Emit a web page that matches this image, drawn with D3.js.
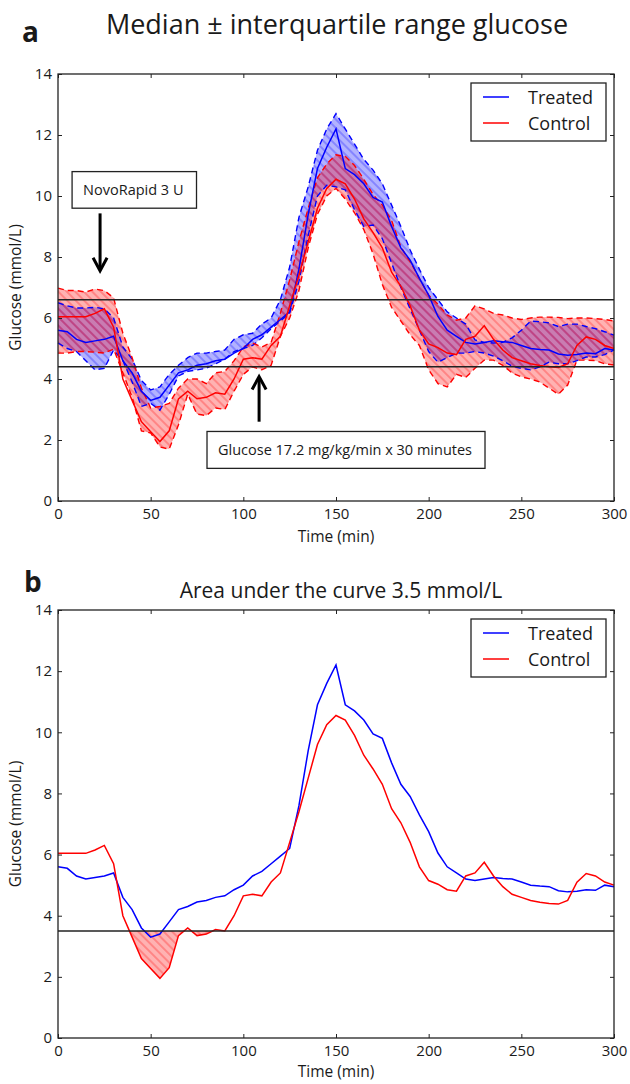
<!DOCTYPE html>
<html>
<head>
<meta charset="utf-8">
<script src="https://cdn.jsdelivr.net/npm/d3@7"></script>
<style>
  body { margin: 0; background: #fff; }
  text { font-family: "Open Sans", sans-serif; fill: #1a1a1a; }
</style>
</head>
<body>
<svg id="chart" width="630" height="1084"></svg>
<script>
// time grid (min)
var minutes = [0,5,10,15,20,25,30,35,40,45,50,55,60,65,70,75,80,85,90,95,100,
  105,110,115,120,125,130,135,140,145,150,155,160,165,170,175,180,185,190,195,200,
  205,210,215,220,225,230,235,240,245,250,255,260,265,270,275,280,285,290,295,300];

// Treated: median, lower and upper quartile (mmol/L)
var treatedMedian = [5.6,5.55,5.3,5.2,5.25,5.3,5.4,4.6,4.2,3.6,3.3,3.4,3.8,4.2,4.3,4.45,4.5,4.6,4.65,4.85,5.0,
  5.3,5.45,5.7,5.95,6.2,7.6,9.4,10.9,11.6,12.2,10.9,10.7,10.4,9.95,9.8,9.0,8.3,7.9,7.3,6.75,
  6.05,5.6,5.4,5.2,5.15,5.2,5.25,5.22,5.2,5.1,5.0,4.97,4.95,4.82,4.78,4.8,4.85,4.83,5.0,4.95];
var treatedQ1 = [5.18,5.0,4.9,4.6,4.3,4.35,4.95,4.6,3.9,3.1,3.2,2.98,3.5,4.1,4.25,4.3,4.35,4.5,4.65,4.9,5.0,
  5.1,5.35,5.65,5.9,6.16,7.2,8.7,10.0,10.35,10.3,10.2,9.55,9.0,9.05,8.6,7.8,7.0,6.3,5.6,4.9,
  4.55,4.7,4.85,4.85,4.9,4.85,4.75,4.6,4.42,4.35,4.3,4.4,4.55,4.5,4.5,4.6,4.72,4.72,4.8,4.95];
var treatedQ3 = [6.5,6.4,6.33,6.33,6.35,6.3,6.0,5.05,4.65,3.95,3.64,3.74,4.15,4.45,4.7,4.85,4.85,4.9,4.95,5.3,5.45,
  5.5,5.8,6.0,6.6,7.67,9.3,10.3,11.5,12.2,12.7,12.2,11.7,11.2,10.85,10.4,9.7,9.0,8.23,7.6,7.0,
  6.6,6.2,6.0,5.8,5.28,5.2,5.18,5.2,5.35,5.6,5.9,5.88,5.84,5.72,5.8,5.8,5.72,5.65,5.55,5.44];

// Control: median, lower and upper quartile (mmol/L)
var controlMedian = [6.04,6.04,6.04,6.04,6.15,6.3,5.7,4.0,3.3,2.6,2.27,1.95,2.3,3.35,3.6,3.35,3.4,3.55,3.5,4.0,4.65,
  4.7,4.65,5.1,5.4,6.4,7.4,8.5,9.6,10.25,10.55,10.4,9.9,9.25,8.8,8.3,7.5,7.04,6.4,5.6,5.15,
  5.03,4.85,4.8,5.3,5.4,5.75,5.3,4.95,4.7,4.6,4.5,4.44,4.4,4.38,4.5,5.1,5.38,5.3,5.1,5.0];
var controlQ1 = [4.85,4.85,4.9,4.9,4.88,4.85,4.98,4.2,3.4,2.3,2.23,1.77,1.7,2.5,3.5,2.85,2.8,3.05,3.0,3.6,4.15,
  4.4,4.3,4.45,5.4,6.0,6.9,8.3,9.4,10.0,10.25,9.9,9.45,8.9,8.1,7.1,6.35,5.9,5.45,5.1,4.3,
  3.85,3.74,4.15,4.05,4.35,4.62,4.62,4.45,4.2,4.07,4.0,3.9,3.7,3.5,3.8,4.62,4.62,4.6,4.5,4.46];
var controlQ3 = [6.98,6.9,6.9,6.85,6.95,6.9,6.66,5.5,4.7,3.7,3.05,3.1,3.2,3.7,4.0,4.0,3.85,4.2,4.25,4.6,5.05,
  5.18,5.05,5.2,6.16,7.25,8.5,9.6,10.6,11.05,11.35,11.3,11.0,10.55,10.05,9.7,9.2,8.33,7.85,7.3,6.75,
  6.45,6.1,5.93,6.0,6.4,6.3,6.15,6.1,6.0,5.95,6.0,6.03,6.03,6.02,5.98,6.0,6.0,5.98,5.95,5.9];

var targetRange = [4.4, 6.6];
var hypoLimit = 3.5;

var xTicks = [0, 50, 100, 150, 200, 250, 300];
var yTicks = [0, 2, 4, 6, 8, 10, 12, 14];
var seriesNames = ["Treated", "Control"];
var seriesColors = ["#0000ff", "#ff0000"];

var annotations = [
  {label: "NovoRapid 3 U", boxT: 7.6, boxTop: 10.8, boxBottom: 9.6, arrowT: 22.7, from: 9.43, to: 7.55},
  {label: "Glucose 17.2 mg/kg/min x 30 minutes", boxT: 80.4, boxTop: 2.28, boxBottom: 1.07, arrowT: 108.5, from: 2.6, to: 4.08}
];

var svg = d3.select("#chart");
var defs = svg.append("defs");

seriesColors.forEach(function(c, i) {
  var p = defs.append("pattern")
    .attr("id", "hatch" + i)
    .attr("patternUnits", "userSpaceOnUse")
    .attr("width", 6).attr("height", 6)
    .attr("patternTransform", "rotate(-45)");
  p.append("line")
    .attr("x1", 3).attr("y1", 0).attr("x2", 3).attr("y2", 6)
    .attr("stroke", c).attr("stroke-width", 1).attr("stroke-opacity", 0.5);
});

function rows(med, lo, hi) {
  return minutes.map(function(t, i) { return {t: t, med: med[i], lo: lo[i], hi: hi[i]}; });
}
var treated = rows(treatedMedian, treatedQ1, treatedQ3);
var control = rows(controlMedian, controlQ1, controlQ3);

function styleAxis(a) {
  a.select(".domain").remove();
  a.selectAll(".tick line").attr("stroke", "#222");
  a.selectAll(".tick text").attr("font-size", 15).attr("fill", "#1a1a1a")
    .attr("font-family", "Open Sans, sans-serif");
}

function drawFrame(g, x, y, labelGap) {
  var x0 = x.range()[0], x1 = x.range()[1], y0 = y.range()[0], y1 = y.range()[1];

  g.append("g").attr("transform", "translate(0," + y0 + ")")
    .call(d3.axisBottom(x).tickValues(xTicks).tickSizeInner(-4).tickSizeOuter(0).tickPadding(7))
    .call(styleAxis);
  g.append("g").attr("transform", "translate(0," + y1 + ")")
    .call(d3.axisTop(x).tickValues(xTicks).tickSizeInner(-4).tickSizeOuter(0).tickFormat(""))
    .call(styleAxis);
  g.append("g").attr("transform", "translate(" + x0 + ",0)")
    .call(d3.axisLeft(y).tickValues(yTicks).tickSizeInner(-4).tickSizeOuter(0).tickPadding(6))
    .call(styleAxis);
  g.append("g").attr("transform", "translate(" + x1 + ",0)")
    .call(d3.axisRight(y).tickValues(yTicks).tickSizeInner(-4).tickSizeOuter(0).tickFormat(""))
    .call(styleAxis);

  g.append("rect")
    .attr("x", x0).attr("y", y1)
    .attr("width", x1 - x0).attr("height", y0 - y1)
    .attr("fill", "none").attr("stroke", "#222").attr("stroke-width", 1.3);

  g.append("text")
    .attr("x", (x0 + x1) / 2).attr("y", y0 + labelGap)
    .attr("text-anchor", "middle").attr("font-size", 15.5)
    .text("Time (min)");
  g.append("text")
    .attr("transform", "translate(21," + ((y0 + y1) / 2) + ") rotate(-90)")
    .attr("text-anchor", "middle").attr("font-size", 15.5)
    .text("Glucose (mmol/L)");
}

function drawLegend(g, x, y) {
  var right = x.range()[1], top = y.range()[1];
  var lg = g.append("g").attr("transform", "translate(" + (right - 143) + "," + (top + 9) + ")");
  lg.append("rect").attr("width", 135).attr("height", 58)
    .attr("fill", "#fff").attr("stroke", "#222").attr("stroke-width", 1.3);
  seriesNames.forEach(function(n, i) {
    var yy = 14 + i * 26;
    lg.append("line").attr("x1", 12).attr("x2", 38).attr("y1", yy).attr("y2", yy)
      .attr("stroke", seriesColors[i]).attr("stroke-width", 1.5);
    lg.append("text").attr("x", 57).attr("y", yy + 6.5).attr("font-size", 18).text(n);
  });
}

function hline(g, x, y, v) {
  g.append("line")
    .attr("x1", x.range()[0]).attr("x2", x.range()[1])
    .attr("y1", y(v)).attr("y2", y(v))
    .attr("stroke", "#222").attr("stroke-width", 1.5);
}

// ---------- panel a ----------
var xa = d3.scaleLinear().domain([0, 300]).range([58, 614]);
var ya = d3.scaleLinear().domain([0, 14]).range([501, 74]);
var ga = svg.append("g");

var bandA = d3.area().x(function(d) { return xa(d.t); })
  .y0(function(d) { return ya(d.lo); }).y1(function(d) { return ya(d.hi); });
var lineA = function(key) {
  return d3.line().x(function(d) { return xa(d.t); }).y(function(d) { return ya(d[key]); });
};

[treated, control].forEach(function(data, i) {
  ga.append("path").datum(data).attr("d", bandA)
    .attr("fill", seriesColors[i]).attr("fill-opacity", 0.3);
  ga.append("path").datum(data).attr("d", bandA).attr("fill", "url(#hatch" + i + ")");
});
[treated, control].forEach(function(data, i) {
  ["lo", "hi"].forEach(function(k) {
    ga.append("path").datum(data).attr("d", lineA(k))
      .attr("fill", "none").attr("stroke", seriesColors[i])
      .attr("stroke-width", 1.4).attr("stroke-dasharray", "6,4");
  });
});
[treated, control].forEach(function(data, i) {
  ga.append("path").datum(data).attr("d", lineA("med"))
    .attr("fill", "none").attr("stroke", seriesColors[i]).attr("stroke-width", 1.5);
});
targetRange.forEach(function(v) { hline(ga, xa, ya, v); });

annotations.forEach(function(a) {
  var t = ga.append("text")
    .attr("x", xa(a.boxT) + 11)
    .attr("y", (ya(a.boxTop) + ya(a.boxBottom)) / 2 + 5)
    .attr("font-size", 14.5).text(a.label);
  var w = t.node().getComputedTextLength();
  ga.insert("rect", "text")
    .attr("x", xa(a.boxT)).attr("y", ya(a.boxTop))
    .attr("width", w + 24).attr("height", ya(a.boxBottom) - ya(a.boxTop))
    .attr("fill", "#fff").attr("stroke", "#222").attr("stroke-width", 1.3);
  var ax = xa(a.arrowT), yFrom = ya(a.from), yTo = ya(a.to);
  var dir = yTo > yFrom ? 1 : -1;
  ga.append("line").attr("x1", ax).attr("x2", ax).attr("y1", yFrom).attr("y2", yTo - dir)
    .attr("stroke", "#000").attr("stroke-width", 3);
  ga.append("path")
    .attr("d", "M" + (ax - 7) + "," + (yTo - dir * 13) + "L" + ax + "," + yTo + "L" + (ax + 7) + "," + (yTo - dir * 13))
    .attr("fill", "none").attr("stroke", "#000").attr("stroke-width", 3)
    .attr("stroke-linejoin", "miter");
});

drawFrame(ga, xa, ya, 41);
drawLegend(ga, xa, ya);

svg.append("text").attr("x", 22).attr("y", 42)
  .attr("font-family", "Liberation Sans, Arial, sans-serif").attr("font-weight", "bold")
  .attr("font-size", 28).text("a");
svg.append("text").attr("x", 337).attr("y", 34).attr("text-anchor", "middle")
  .attr("font-size", 27).text("Median \u00b1 interquartile range glucose");

// ---------- panel b ----------
var xb = d3.scaleLinear().domain([0, 300]).range([58, 614]);
var yb = d3.scaleLinear().domain([0, 14]).range([1038, 610]);
var gb = svg.append("g");

defs.append("clipPath").attr("id", "belowHypo")
  .append("rect")
  .attr("x", xb.range()[0]).attr("y", yb(hypoLimit))
  .attr("width", xb.range()[1] - xb.range()[0]).attr("height", yb.range()[0] - yb(hypoLimit));

var hypoArea = d3.area().x(function(d) { return xb(d.t); })
  .y0(yb(hypoLimit)).y1(function(d) { return yb(d.med); });
gb.append("path").datum(control).attr("d", hypoArea).attr("clip-path", "url(#belowHypo)")
  .attr("fill", seriesColors[1]).attr("fill-opacity", 0.3);
gb.append("path").datum(control).attr("d", hypoArea).attr("clip-path", "url(#belowHypo)")
  .attr("fill", "url(#hatch1)");

var lineB = d3.line().x(function(d) { return xb(d.t); }).y(function(d) { return yb(d.med); });
[treated, control].forEach(function(data, i) {
  gb.append("path").datum(data).attr("d", lineB)
    .attr("fill", "none").attr("stroke", seriesColors[i]).attr("stroke-width", 1.5);
});
hline(gb, xb, yb, hypoLimit);

drawFrame(gb, xb, yb, 39);
drawLegend(gb, xb, yb);

svg.append("text").attr("x", 24).attr("y", 592)
  .attr("font-family", "Liberation Sans, Arial, sans-serif").attr("font-weight", "bold")
  .attr("font-size", 28).text("b");
svg.append("text").attr("x", 341).attr("y", 598).attr("text-anchor", "middle")
  .attr("font-size", 21).text("Area under the curve 3.5 mmol/L");
</script>
</body>
</html>
